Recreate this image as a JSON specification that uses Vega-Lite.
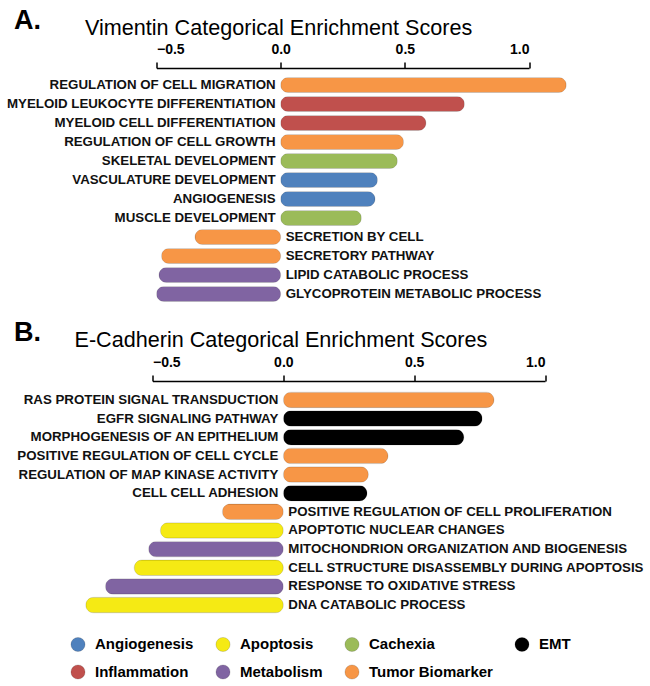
{
  "$schema": "https://vega.github.io/schema/vega-lite/v6.json",
  "padding": {"left": 6.5, "top": 7, "right": 2, "bottom": 2},
  "background": "white",
  "datasets": {
    "vimentin": [
      {"order": 1, "term": "REGULATION OF CELL MIGRATION", "score": 1.15, "category": "Tumor Biomarker"},
      {"order": 2, "term": "MYELOID LEUKOCYTE DIFFERENTIATION", "score": 0.74, "category": "Inflammation"},
      {"order": 3, "term": "MYELOID CELL DIFFERENTIATION", "score": 0.585, "category": "Inflammation"},
      {"order": 4, "term": "REGULATION OF CELL GROWTH", "score": 0.495, "category": "Tumor Biomarker"},
      {"order": 5, "term": "SKELETAL DEVELOPMENT", "score": 0.47, "category": "Cachexia"},
      {"order": 6, "term": "VASCULATURE DEVELOPMENT", "score": 0.39, "category": "Angiogenesis"},
      {"order": 7, "term": "ANGIOGENESIS", "score": 0.38, "category": "Angiogenesis"},
      {"order": 8, "term": "MUSCLE DEVELOPMENT", "score": 0.325, "category": "Cachexia"},
      {"order": 9, "term": "SECRETION BY CELL", "score": -0.345, "category": "Tumor Biomarker"},
      {"order": 10, "term": "SECRETORY PATHWAY", "score": -0.48, "category": "Tumor Biomarker"},
      {"order": 11, "term": "LIPID CATABOLIC PROCESS", "score": -0.49, "category": "Metabolism"},
      {"order": 12, "term": "GLYCOPROTEIN METABOLIC PROCESS", "score": -0.5, "category": "Metabolism"}
    ],
    "ecadherin": [
      {"order": 1, "term": "RAS PROTEIN SIGNAL TRANSDUCTION", "score": 0.805, "category": "Tumor Biomarker"},
      {"order": 2, "term": "EGFR SIGNALING PATHWAY", "score": 0.76, "category": "EMT"},
      {"order": 3, "term": "MORPHOGENESIS OF AN EPITHELIUM", "score": 0.69, "category": "EMT"},
      {"order": 4, "term": "POSITIVE REGULATION OF CELL CYCLE", "score": 0.4, "category": "Tumor Biomarker"},
      {"order": 5, "term": "REGULATION OF MAP KINASE ACTIVITY", "score": 0.325, "category": "Tumor Biomarker"},
      {"order": 6, "term": "CELL CELL ADHESION", "score": 0.32, "category": "EMT"},
      {"order": 7, "term": "POSITIVE REGULATION OF CELL PROLIFERATION", "score": -0.233, "category": "Tumor Biomarker"},
      {"order": 8, "term": "APOPTOTIC NUCLEAR CHANGES", "score": -0.47, "category": "Apoptosis"},
      {"order": 9, "term": "MITOCHONDRION ORGANIZATION AND BIOGENESIS", "score": -0.515, "category": "Metabolism"},
      {"order": 10, "term": "CELL STRUCTURE DISASSEMBLY DURING APOPTOSIS", "score": -0.57, "category": "Apoptosis"},
      {"order": 11, "term": "RESPONSE TO OXIDATIVE STRESS", "score": -0.68, "category": "Metabolism"},
      {"order": 12, "term": "DNA CATABOLIC PROCESS", "score": -0.755, "category": "Apoptosis"}
    ]
  },
  "vconcat": [
    {
      "data": {"name": "vimentin"},
      "width": 372.5,
      "height": 243,
      "title": {"text": "A.", "anchor": "start", "frame": "group", "dx": -142.5, "dy": 43, "baseline": "alphabetic", "fontSize": 27, "fontWeight": "bold", "font": "Liberation Sans", "color": "#000"},
      "encoding": {
        "y": {"field": "order", "type": "ordinal", "axis": null, "scale": {"paddingInner": 0.21, "paddingOuter": 0.5}}
      },
      "layer": [
        {
          "mark": {"type": "bar", "cornerRadius": 7.5, "stroke": "#000", "strokeOpacity": 0.12, "strokeWidth": 1},
          "encoding": {
            "x": {"field": "score", "type": "quantitative", "scale": {"domain": [-0.5, 1.0], "nice": false, "zero": false},
              "axis": {"orient": "top", "values": [-0.5, 0, 0.5, 1.0], "format": ".1f", "grid": false,
                "title": "Vimentin Categorical Enrichment Scores", "titleX": -72, "titleY": -34, "titleAlign": "left", "titleBaseline": "alphabetic",
                "titleFont": "Liberation Sans", "titleFontSize": 21.6, "titleFontWeight": "normal", "titleColor": "#000",
                "labelFont": "Liberation Sans", "labelFontSize": 14, "labelFontWeight": "bold", "labelColor": "#000",
                "labelBaseline": "alphabetic", "labelPadding": 9, "tickSize": 6, "tickColor": "#000", "tickWidth": 1.5, "domainColor": "#000", "domainWidth": 1.5}},
            "color": {"field": "category", "type": "nominal",
              "legend": {"orient": "none", "legendX": -86.5, "legendY": 568, "columns": 4, "direction": "horizontal", "columnPadding": 19, "rowPadding": 8}}
          }
        },
        {
          "transform": [{"filter": "datum.score > 0"}],
          "mark": {"type": "text", "align": "right", "dx": -5, "baseline": "middle", "font": "Liberation Sans", "fontSize": 13.3, "fontWeight": "bold", "color": "#111"},
          "encoding": {"x": {"datum": 0}, "text": {"field": "term"}}
        },
        {
          "transform": [{"filter": "datum.score < 0"}],
          "mark": {"type": "text", "align": "left", "dx": 5, "baseline": "middle", "font": "Liberation Sans", "fontSize": 13.3, "fontWeight": "bold", "color": "#111"},
          "encoding": {"x": {"datum": 0}, "text": {"field": "term"}}
        }
      ]
    },
    {
      "data": {"name": "ecadherin"},
      "width": 388.5,
      "height": 243,
      "title": {"text": "B.", "anchor": "start", "frame": "group", "dx": -142.5, "dy": 43, "baseline": "alphabetic", "fontSize": 27, "fontWeight": "bold", "font": "Liberation Sans", "color": "#000"},
      "encoding": {
        "y": {"field": "order", "type": "ordinal", "axis": null, "scale": {"paddingInner": 0.17, "paddingOuter": 0.6}}
      },
      "layer": [
        {
          "mark": {"type": "bar", "cornerRadius": 7.75, "stroke": "#000", "strokeOpacity": 0.12, "strokeWidth": 1},
          "encoding": {
            "x": {"field": "score", "type": "quantitative", "scale": {"domain": [-0.5, 1.0], "nice": false, "zero": false, "range": [-4, 388.5]},
              "axis": {"orient": "top", "values": [-0.5, 0, 0.5, 1.0], "format": ".1f", "grid": false,
                "title": "E-Cadherin Categorical Enrichment Scores", "titleX": -82.5, "titleY": -35, "titleAlign": "left", "titleBaseline": "alphabetic",
                "titleFont": "Liberation Sans", "titleFontSize": 21.6, "titleFontWeight": "normal", "titleColor": "#000",
                "labelFont": "Liberation Sans", "labelFontSize": 14, "labelFontWeight": "bold", "labelColor": "#000",
                "labelBaseline": "alphabetic", "labelPadding": 9, "tickSize": 6, "tickColor": "#000", "tickWidth": 1.5, "domainColor": "#000", "domainWidth": 1.5}},
            "color": {"field": "category", "type": "nominal",
              "legend": {"orient": "none", "legendX": -86.5, "legendY": 568, "columns": 4, "direction": "horizontal", "columnPadding": 19, "rowPadding": 8}}
          }
        },
        {
          "transform": [{"filter": "datum.score > 0"}],
          "mark": {"type": "text", "align": "right", "dx": -5, "baseline": "middle", "font": "Liberation Sans", "fontSize": 13.3, "fontWeight": "bold", "color": "#111"},
          "encoding": {"x": {"datum": 0}, "text": {"field": "term"}}
        },
        {
          "transform": [{"filter": "datum.score < 0"}],
          "mark": {"type": "text", "align": "left", "dx": 5, "baseline": "middle", "font": "Liberation Sans", "fontSize": 13.3, "fontWeight": "bold", "color": "#111"},
          "encoding": {"x": {"datum": 0}, "text": {"field": "term"}}
        }
      ]
    }
  ],
  "spacing": 70,
  "bounds": "flush",
  "resolve": {"scale": {"color": "shared"}},
  "config": {
    "view": {"stroke": null},
    "range": {"category": ["#4F81BD", "#F5EA14", "#9BBB59", "#000000", "#C0504D", "#8064A2", "#F79646"]},
    "legend": {
      "title": null, "symbolType": "circle", "symbolSize": 200, "symbolStrokeWidth": 1, "symbolStrokeColor": "rgba(0,0,0,0.15)", "symbolOpacity": 1,
      "labelFont": "Liberation Sans", "labelFontSize": 15, "labelFontWeight": "bold", "labelColor": "#000",
      "labelOffset": 9, "labelLimit": 300
    }
  }
}
